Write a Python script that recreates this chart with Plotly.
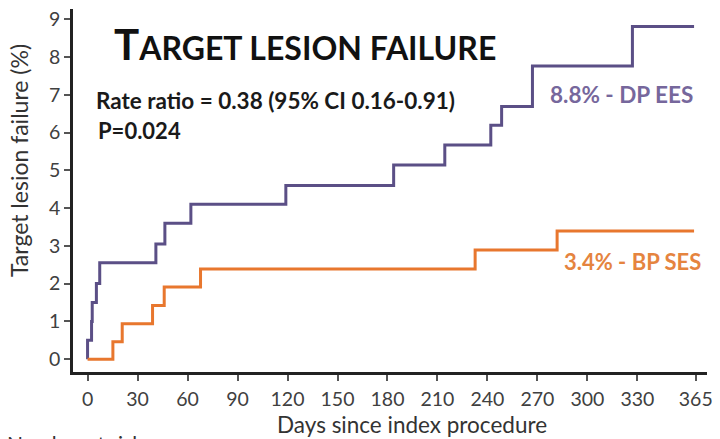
import plotly.graph_objects as go

# Data
dp_days = [0, 0, 2.4, 2.8, 5.3, 7.3, 41, 46.4, 62, 119, 183.7, 214.4, 242, 248.5, 267, 327, 364]
dp_vals = [0, 0.5, 1.0, 1.5, 2.0, 2.55, 3.05, 3.6, 4.1, 4.6, 5.14, 5.67, 6.19, 6.69, 7.76, 8.81, 8.81]
bp_days = [0, 15.2, 20.8, 39, 46, 67.8, 232.6, 281.8, 364]
bp_vals = [0, 0.46, 0.94, 1.42, 1.91, 2.39, 2.89, 3.39, 3.39]
x_ticks = [0, 30, 60, 90, 120, 150, 180, 210, 240, 270, 300, 330, 365]
y_ticks = [0, 1, 2, 3, 4, 5, 6, 7, 8, 9]

PURPLE = "#5b4f86"
PURPLE_TXT = "#76679c"
ORANGE = "#e8772e"
ORANGE_TXT = "#e5843f"
FONT = "Lato"

W, H = 720, 439
L, R, T, B = 73, 7, 8, 67
PW, PH = W - L - R, H - T - B


def px(x):
    return (x - L) / PW


def py(y):
    return (H - B - y) / PH


fig = go.Figure()
fig.add_trace(go.Scatter(x=dp_days, y=dp_vals, mode="lines", line=dict(color=PURPLE, width=3, shape="hv"),
                         name="DP EES", showlegend=False, hoverinfo="skip"))
fig.add_trace(go.Scatter(x=bp_days, y=bp_vals, mode="lines", line=dict(color=ORANGE, width=3, shape="hv"),
                         name="BP SES", showlegend=False, hoverinfo="skip"))

ann = []
ann.append(dict(x=px(112), y=py(70), xref="paper", yref="paper", xanchor="left", yanchor="bottom",
                text="<b><span style='font-size:42px'>T</span>ARGET LESION FAILURE</b>",
                font=dict(family=FONT, size=32, color="#111111"), showarrow=False))
ann.append(dict(x=px(94), y=py(100), xref="paper", yref="paper", xanchor="left", yanchor="middle",
                text="<b>Rate ratio = 0.38 (95% CI 0.16-0.91)</b>",
                font=dict(family=FONT, size=22.5, color="#1a1a1a"), showarrow=False))
ann.append(dict(x=px(96), y=py(130), xref="paper", yref="paper", xanchor="left", yanchor="middle",
                text="<b>P=0.024</b>",
                font=dict(family=FONT, size=22, color="#1a1a1a"), showarrow=False))
ann.append(dict(x=px(552), y=py(94), xref="paper", yref="paper", xanchor="left", yanchor="middle",
                text="<b>8.8% - DP EES</b>",
                font=dict(family=FONT, size=22.5, color=PURPLE_TXT), showarrow=False))
ann.append(dict(x=px(567), y=py(261), xref="paper", yref="paper", xanchor="left", yanchor="middle",
                text="<b>3.4% - BP SES</b>",
                font=dict(family=FONT, size=22, color=ORANGE_TXT), showarrow=False))
ann.append(dict(x=px(18), y=py(160), xref="paper", yref="paper", xanchor="center", yanchor="middle",
                text="Target lesion failure (%)", textangle=-90,
                font=dict(family=FONT, size=23, color="#333333"), showarrow=False))
ann.append(dict(x=px(415), y=py(425), xref="paper", yref="paper", xanchor="center", yanchor="middle",
                text="Days since index procedure",
                font=dict(family=FONT, size=22.5, color="#333333"), showarrow=False))
ann.append(dict(x=px(4), y=py(429), xref="paper", yref="paper", xanchor="left", yanchor="top",
                text="Number at risk",
                font=dict(family=FONT, size=21, color="#333333"), showarrow=False))

fig.update_layout(
    width=W, height=H,
    margin=dict(l=L, r=R, t=T, b=B),
    plot_bgcolor="white", paper_bgcolor="white",
    annotations=ann,
    xaxis=dict(range=[-14.7 / 1.682, (713 - 87.7) / 1.682], tickvals=x_ticks,
               ticktext=[str(v) for v in x_ticks], showline=True, linecolor="#222222", linewidth=2.5,
               ticks="outside", ticklen=6, tickwidth=1.5, tickcolor="#555555", showgrid=False,
               zeroline=False, ticklabelstandoff=2,
               tickfont=dict(family=FONT, size=19.5, color="#404040")),
    yaxis=dict(range=[-0.34, 9.27], tickvals=y_ticks, showline=True, linecolor="#222222", linewidth=2.5,
               ticks="outside", ticklen=6, tickwidth=1.5, tickcolor="#555555", showgrid=False,
               zeroline=False, tickfont=dict(family=FONT, size=19.5, color="#404040")),
)

fig.write_html("out.html")
